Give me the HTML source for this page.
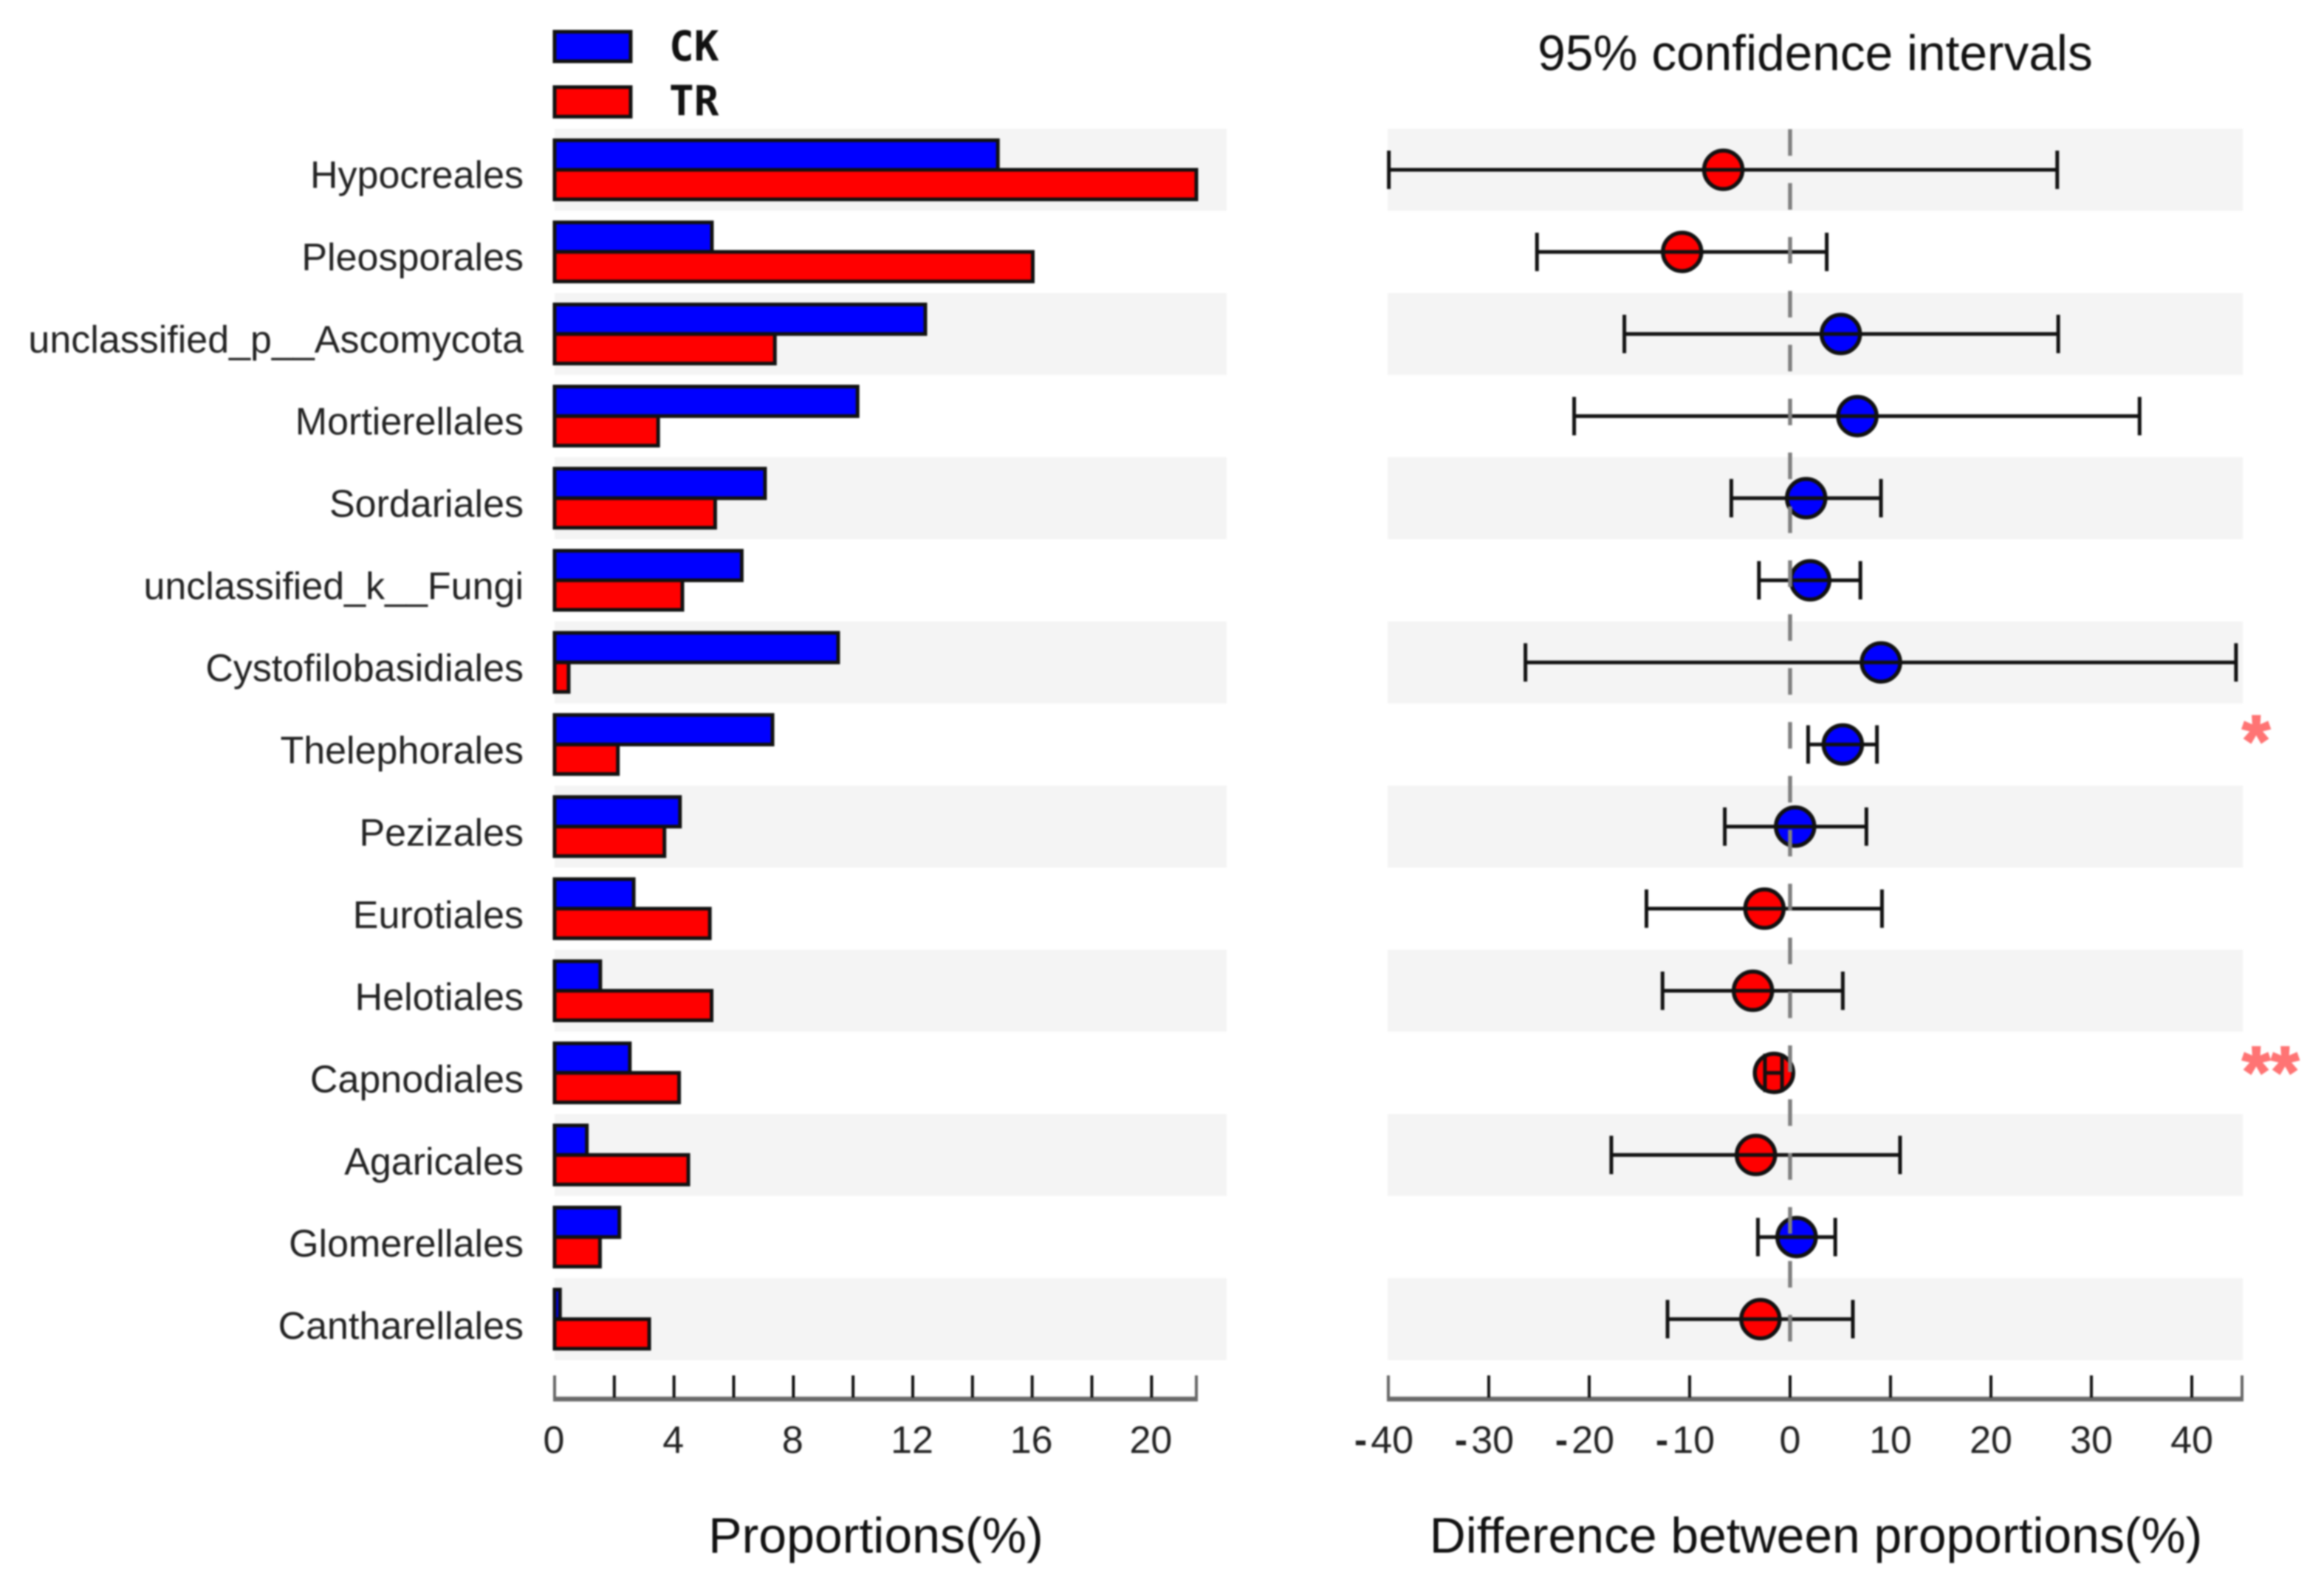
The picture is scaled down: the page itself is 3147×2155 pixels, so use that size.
<!DOCTYPE html>
<html lang="en">
<head>
<meta charset="utf-8">
<title>Proportions and 95% confidence intervals</title>
<style>
html,body{margin:0;padding:0;background:#fff;width:3147px;height:2155px;overflow:hidden}
svg{display:block;filter:blur(1px)}
text{font-family:"Liberation Sans",sans-serif;fill:#222}
</style>
</head>
<body>
<svg id="chart" xmlns="http://www.w3.org/2000/svg" width="3147" height="2155" viewBox="0 0 3147 2155">
<rect width="3147" height="2155" fill="#fff"/>
</svg>
<script>
const categories = ["Hypocreales","Pleosporales","unclassified_p__Ascomycota","Mortierellales","Sordariales","unclassified_k__Fungi","Cystofilobasidiales","Thelephorales","Pezizales","Eurotiales","Helotiales","Capnodiales","Agaricales","Glomerellales","Cantharellales"];
const ckValues = [14.85,5.27,12.42,10.15,7.05,6.27,9.5,7.3,4.2,2.65,1.53,2.52,1.08,2.17,0.18];
const trValues = [21.5,16.02,7.38,3.47,5.38,4.28,0.47,2.12,3.68,5.2,5.26,4.17,4.48,1.52,3.17];
const diffValues = [-6.65,-10.75,5.05,6.7,1.6,2.0,9.05,5.25,0.5,-2.55,-3.7,-1.6,-3.4,0.65,-2.95];
const ciLower = [-39.95,-25.2,-16.5,-21.5,-5.85,-3.1,-26.35,1.8,-6.5,-14.3,-12.7,-2.5,-17.8,-3.2,-12.2];
const ciUpper = [26.6,3.65,26.7,34.8,9.05,7.0,44.4,8.65,7.6,9.15,5.25,-0.8,10.95,4.5,6.25];
const significance = ["","","","","","","","*","","","","**","","",""];
const propTicks = [0,2,4,6,8,10,12,14,16,18,20,21.5];
const propTickLabels = [0,4,8,12,16,20];
const diffTicks = [-40,-30,-20,-10,0,10,20,30,40,45];
const diffTickLabels = [-40,-30,-20,-10,0,10,20,30,40];
const legendLabels = ["CK","TR"];
const propDomain = [0,21.5];
const diffDomain = [-40,45];

const svg = document.getElementById('chart');
const NS = 'http://www.w3.org/2000/svg';
const BLUE = '#0000ff', RED = '#ff0000';

function linear(domain, range){
  return v => range[0] + (v - domain[0]) * (range[1] - range[0]) / (domain[1] - domain[0]);
}
const xProp = linear(propDomain,[751,1620]);
const xDiff = linear(diffDomain,[1880,3036]);
const rowY = i => 230 + 111.2 * i;
const labelY = i => 254.6 + 111.35 * i;

function make(tag, attrs, text){
  const el = document.createElementNS(NS, tag);
  for (const k in attrs) el.setAttribute(k, attrs[k]);
  if (text !== undefined) el.textContent = text;
  svg.appendChild(el);
  return el;
}

/* alternating row bands */
categories.forEach((c,i) => {
  if (i % 2) return;
  let el = make('rect',{x:751,y:rowY(i)-55.5,width:910,height:111,fill:'#f4f4f4'});
  
  
  el = make('rect',{x:1879,y:rowY(i)-55.5,width:1158,height:111,fill:'#f4f4f4'});
  
  
});

/* legend */
legendLabels.forEach((l,i) => {
  const y = i === 0 ? 43 : 118;
  let el = make('rect',{x:751,y:y,width:103,height:40,fill:i===0?BLUE:RED,stroke:'#111','stroke-width':5});
  
  
  el = make('text',{x:906,y:i===0?82:156,'font-size':56,'font-weight':'bold',style:'font-family:"DejaVu Sans Mono",monospace;fill:#111'},l);
  
  
});

/* category labels and bars */
categories.forEach((c,i) => {
  const y = rowY(i);
  let el = make('text',{x:709,y:labelY(i),'text-anchor':'end','font-size':52},c);
  
  
  el = make('rect',{x:xProp(0),y:y-40,width:xProp(ckValues[i])-xProp(0),height:40,fill:BLUE,stroke:'#111','stroke-width':5});
  
  
  el = make('rect',{x:xProp(0),y:y,width:xProp(trValues[i])-xProp(0),height:40,fill:RED,stroke:'#111','stroke-width':5});
  
  
});

/* confidence intervals */
categories.forEach((c,i) => {
  const y = rowY(i);
  const col = diffValues[i] >= 0 ? BLUE : RED;
  let el = make('circle',{cx:xDiff(diffValues[i]),cy:y,r:26,fill:col,stroke:'#111','stroke-width':5.5});
  
  
  el = make('line',{x1:xDiff(ciLower[i]),x2:xDiff(ciUpper[i]),y1:y,y2:y,stroke:'#111','stroke-width':5});
  
  
  el = make('line',{x1:xDiff(ciLower[i]),x2:xDiff(ciLower[i]),y1:y-26,y2:y+26,stroke:'#111','stroke-width':5});
  
  
  el = make('line',{x1:xDiff(ciUpper[i]),x2:xDiff(ciUpper[i]),y1:y-26,y2:y+26,stroke:'#111','stroke-width':5});
  
  
  if (significance[i]) {
    el = make('text',{x:3036,y:y+(significance[i].length>1?33:29),'font-size':98,'font-weight':'bold',stroke:'#ff7474','stroke-width':2,'letter-spacing':significance[i].length>1?1:0,style:'font-family:"Liberation Sans",sans-serif;fill:#ff7474'},significance[i]);
    
    
  }
});

/* zero reference line */
let zero = make('line',{x1:xDiff(0),x2:xDiff(0),y1:175,y2:1817,stroke:'#808080','stroke-width':5.5,'stroke-dasharray':'36 37'});



/* left axis */
let axis = make('line',{x1:xProp(propDomain[0])-2,x2:xProp(propDomain[1])+2,y1:1895,y2:1895,stroke:'#6a6a6a','stroke-width':6.5});


propTicks.forEach(t => {
  const end = t === propTicks[0] || t === propTicks[propTicks.length-1];
  const el = make('line',{x1:xProp(t),x2:xProp(t),y1:1863,y2:1893,stroke:end?'#666':'#111','stroke-width':4});
  
  
});
propTickLabels.forEach(t => {
  const el = make('text',{x:xProp(t)-1,y:1968,'text-anchor':'middle','font-size':52},String(t));
  
  
});

/* right axis */
axis = make('line',{x1:xDiff(diffDomain[0])-2,x2:xDiff(diffDomain[1])+2,y1:1895,y2:1895,stroke:'#6a6a6a','stroke-width':6.5});


diffTicks.forEach(t => {
  const end = t === diffTicks[0] || t === diffTicks[diffTicks.length-1];
  const el = make('line',{x1:xDiff(t),x2:xDiff(t),y1:1863,y2:1893,stroke:end?'#666':'#111','stroke-width':4});
  
  
});
diffTickLabels.forEach(t => {
  const el = make('text',{x:xDiff(t)-(t<0?6:0),y:1968,'text-anchor':'middle','font-size':52});
  
  
  if (t < 0) {
    const sign = document.createElementNS(NS,'tspan');
    sign.setAttribute('font-weight','bold');
    sign.textContent = '-';
    el.appendChild(sign);
    const digits = document.createElementNS(NS,'tspan');
    digits.setAttribute('dx','5');
    digits.textContent = String(-t);
    el.appendChild(digits);
  } else {
    el.textContent = String(t);
  }
});

/* titles */
let title = make('text',{x:1186,y:2103,'text-anchor':'middle','font-size':68,style:'font-family:"Liberation Sans",sans-serif;fill:#111'},'Proportions(%)');


title = make('text',{x:2459,y:2103,'text-anchor':'middle','font-size':67.8,style:'font-family:"Liberation Sans",sans-serif;fill:#111'},'Difference between proportions(%)');


title = make('text',{x:2458,y:95,'text-anchor':'middle','font-size':67.6,style:'font-family:"Liberation Sans",sans-serif;fill:#111'},'95% confidence intervals');


</script>
</body>
</html>
